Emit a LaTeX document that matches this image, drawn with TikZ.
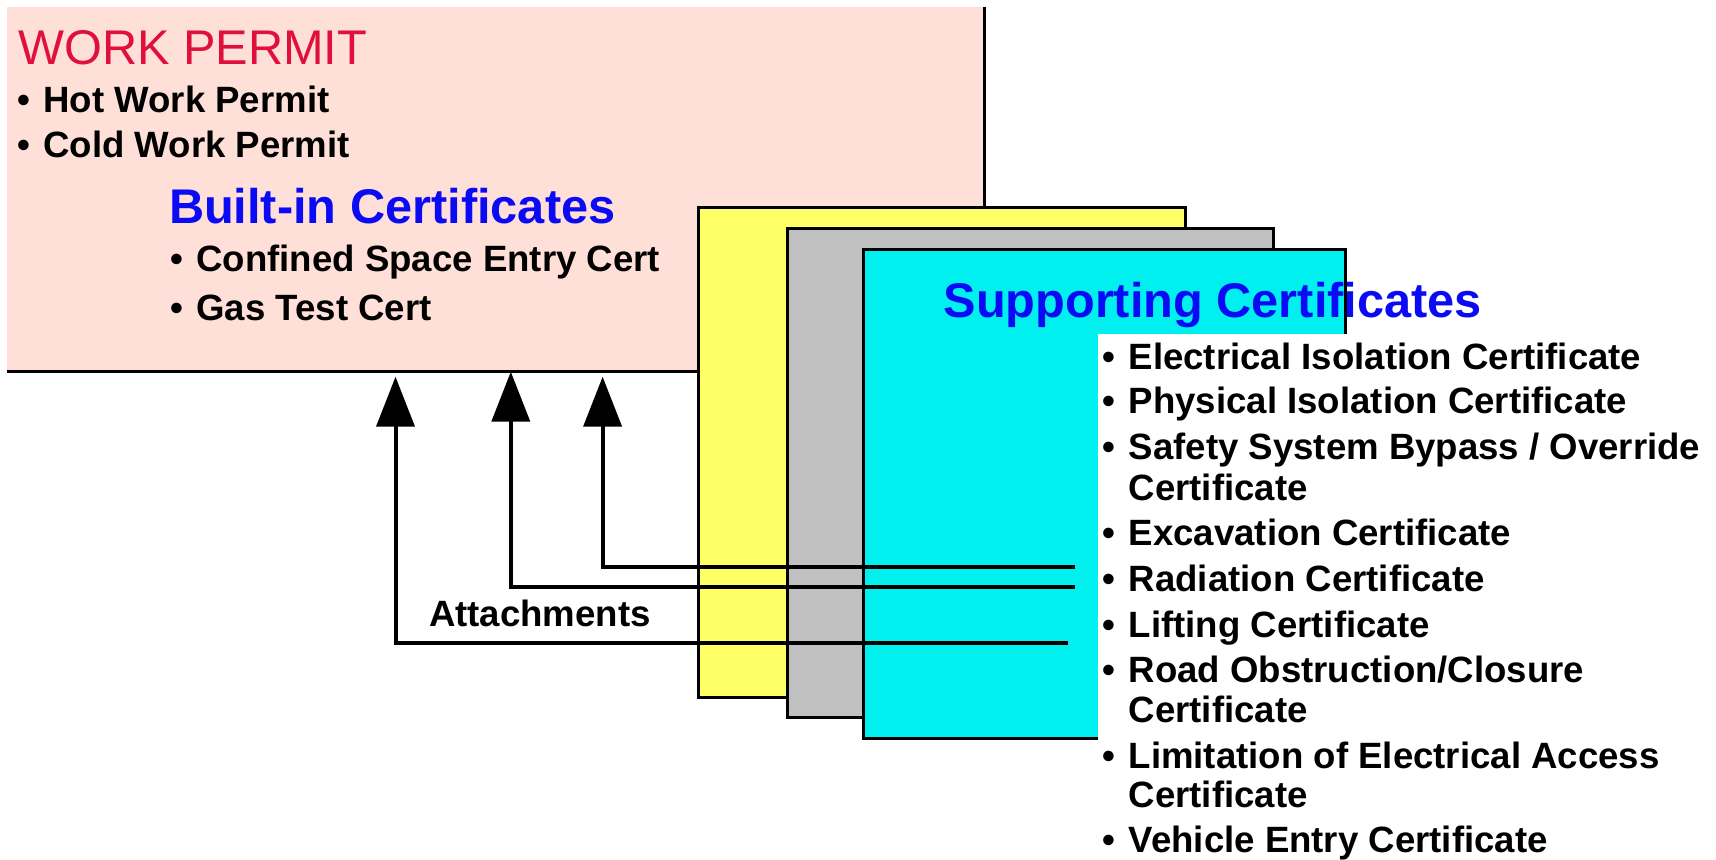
\documentclass[tikz,border=0pt]{standalone}
\usepackage{fontspec}
\setmainfont{Liberation Sans}
\usetikzlibrary{arrows.meta}
\definecolor{permitfill}{HTML}{FFE0D8}
\definecolor{yel}{HTML}{FFFF66}
\definecolor{gry}{HTML}{C0C0C0}
\definecolor{cyn}{HTML}{00F0F0}
\definecolor{redt}{HTML}{E0103C}
\definecolor{bluet}{HTML}{0A0AF5}
\newcommand{\bodyfnt}{\fontsize{18.3pt}{20pt}\selectfont\bfseries}
\newcommand{\titlefnt}{\fontsize{24.35pt}{26pt}\selectfont}
\newcommand{\bul}{\makebox[13pt][l]{•}}
\begin{document}
\begin{tikzpicture}[x=0.5pt,y=-0.5pt,
  sheet/.style={rectangle,inner sep=0,outer sep=0,anchor=north west,line width=1.5pt},
  txt/.style={anchor=base west,inner sep=0,outer sep=0,font=\bodyfnt},
  ttl/.style={anchor=base west,inner sep=0,outer sep=0,font=\titlefnt\bfseries,text=bluet},
  att/.style={line width=2pt,-{Triangle[length=25pt,width=19pt]}}]
\useasboundingbox (0,0) rectangle (1716,859);
% work permit sheet
\node[sheet,fill=permitfill,minimum width=488.5pt,minimum height=182pt] (permit) at (7.3,7) {};
\draw[line width=1.5pt] (permit.north east) -- (permit.south east) -- (permit.south west);
% stacked sheets
\node[sheet,draw,fill=yel,minimum width=243.8pt,minimum height=245pt] (yellow) at (698,207.9) {};
\node[sheet,draw,fill=gry,minimum width=243.05pt,minimum height=244.3pt] (gray) at (787.6,228.9) {};
\node[sheet,fill=cyn,minimum width=241.25pt,minimum height=244.5pt] (cyan) at (863,249) {};
\node[ttl] (suptitle) at (943.5,317.5) {Supporting Certificates};
\draw[line width=1.5pt] (cyan.north west) rectangle (cyan.south east);
\fill[white] (1098.3,334) rectangle (1716,859);
% work permit texts
\node[anchor=base west,inner sep=0,font=\titlefnt,text=redt] (wp) at (17.9,64.3) {WORK PERMIT};
\node[txt] (hot) at (17.4,112.7) {\bul Hot Work Permit};
\node[txt] (cold) at (17.4,157.3) {\bul Cold Work Permit};
\node[ttl] (builtin) at (169,223.3) {Built-in Certificates};
\node[txt] (conf) at (170.4,271.7) {\bul Confined Space Entry Cert};
\node[txt] (gas) at (170.4,320) {\bul Gas Test Cert};
% supporting list
\node[txt] (l1) at (1102.7,369.2) {\bul Electrical Isolation Certificate};
\node[txt] (l2) at (1102.7,413.8) {\bul Physical Isolation Certificate};
\node[txt] (l3) at (1102.7,459.2) {\bul Safety System Bypass / Override};
\node[txt] (l3b) at (1128.7,500.5) {Certificate};
\node[txt] (l4) at (1102.7,545.8) {\bul Excavation Certificate};
\node[txt] (l5) at (1102.7,591.6) {\bul Radiation Certificate};
\node[txt] (l6) at (1102.7,637) {\bul Lifting Certificate};
\node[txt] (l7) at (1102.7,682.7) {\bul Road Obstruction/Closure};
\node[txt] (l7b) at (1128.7,722.2) {Certificate};
\node[txt] (l8) at (1102.7,768.6) {\bul Limitation of Electrical Access};
\node[txt] (l8b) at (1128.7,807.5) {Certificate};
\node[txt] (l9) at (1102.7,852.8) {\bul Vehicle Entry Certificate};
% attachments
\node[txt] (attl) at (429,626.7) {Attachments};
\coordinate (s1) at (1075,567.3);
\coordinate (t1) at (602.6,376.7);
\coordinate (s2) at (1075,587.3);
\coordinate (t2) at (510.8,371.7);
\coordinate (s3) at (1067.7,643.3);
\coordinate (t3) at (395.5,376.7);
\draw[att] (s1) -| (t1);
\draw[att] (s2) -| (t2);
\draw[att] (s3) -| (t3);
\end{tikzpicture}
\end{document}
